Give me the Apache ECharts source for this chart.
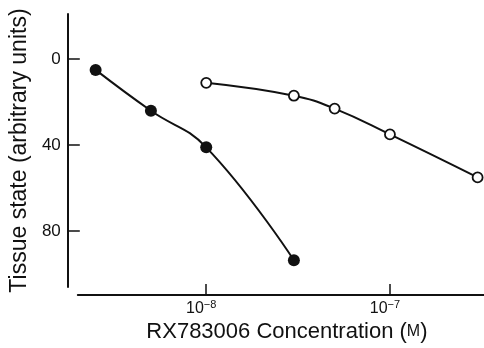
<!DOCTYPE html>
<html>
<head>
<meta charset="utf-8">
<script src="https://cdn.jsdelivr.net/npm/echarts@6/dist/echarts.min.js"></script>
<style>
  html, body { margin: 0; padding: 0; background: #fff; }
  #chart { width: 484px; height: 348px; }
</style>
</head>
<body>
<div id="chart"></div>
<script>
// RX783006 concentration (M) vs tissue state
const filledConc = [2.5e-9, 5e-9, 1e-8, 3e-8];
const filledState = [5, 24, 41, 93.5];
const openConc = [1e-8, 3e-8, 5e-8, 1e-7, 3e-7];
const openState = [11, 17, 23, 35, 55];
const xTicks = [1e-8, 1e-7];
const yTicks = [0, 40, 80];

const font = 'Liberation Sans, Arial, Helvetica, sans-serif';
const ink = '#111';

const chart = echarts.init(document.getElementById('chart'));

const toPairs = (xs, ys) => xs.map((x, i) => [x, ys[i]]);

chart.setOption({
  animation: false,
  grid: { left: 73, right: 0, top: 14, bottom: 54 },
  xAxis: {
    type: 'log',
    logBase: 10,
    min: 2e-9,
    max: 3.25e-7,
    offset: 8,
    axisLine: { onZero: false, lineStyle: { color: ink, width: 2 } },
    axisTick: { inside: true, length: 11, customValues: xTicks, lineStyle: { color: ink, width: 1.5 } },
    splitLine: { show: false },
    minorTick: { show: false },
    axisLabel: {
      customValues: xTicks,
      margin: 4,
      padding: [0, 10, 0, 0],
      fontSize: 15,
      fontFamily: font,
      color: ink,
      formatter: (v) => '{b|10}{sup|−' + Math.round(-Math.log10(v)) + '}',
      rich: {
        b: { fontSize: 16, fontFamily: font, color: ink },
        sup: { fontSize: 11, fontFamily: font, color: ink, verticalAlign: 'top', padding: [0, 0, 7, 0] },
      },
    },
    name: '{a|RX783006 Concentration (}{m|M}{a|)}',
    nameLocation: 'middle',
    nameGap: 22,
    nameTextStyle: {
      padding: [0, 0, 0, 12],
      rich: {
        a: { fontSize: 22, fontFamily: font, color: ink },
        m: { fontSize: 16, fontFamily: font, color: ink },
      },
    },
  },
  yAxis: {
    type: 'value',
    inverse: true,
    min: -21,
    max: 106,
    offset: 10,
    axisLine: { show: true, onZero: false, lineStyle: { color: ink, width: 2 } },
    axisTick: { show: true, inside: true, length: 12, customValues: yTicks, lineStyle: { color: ink, width: 1.5 } },
    splitLine: { show: false },
    axisLabel: {
      customValues: yTicks,
      margin: 7,
      color: ink,
      fontFamily: font,
      fontSize: 17,
    },
    name: 'Tissue state (arbitrary units)',
    nameLocation: 'middle',
    nameGap: 33,
    nameTextStyle: { fontSize: 23, fontFamily: font, color: ink },
  },
  series: [
    {
      type: 'line',
      data: toPairs(filledConc, filledState),
      smooth: 0.45,
      symbol: 'circle',
      symbolSize: 12,
      lineStyle: { color: ink, width: 2 },
      itemStyle: { color: ink, borderColor: ink, borderWidth: 0 },
      z: 3,
    },
    {
      type: 'line',
      data: toPairs(openConc, openState),
      smooth: 0.45,
      symbol: 'circle',
      symbolSize: 10,
      lineStyle: { color: ink, width: 2 },
      itemStyle: { color: '#fff', borderColor: ink, borderWidth: 1.8 },
      z: 3,
    },
  ],
});
</script>
</body>
</html>
